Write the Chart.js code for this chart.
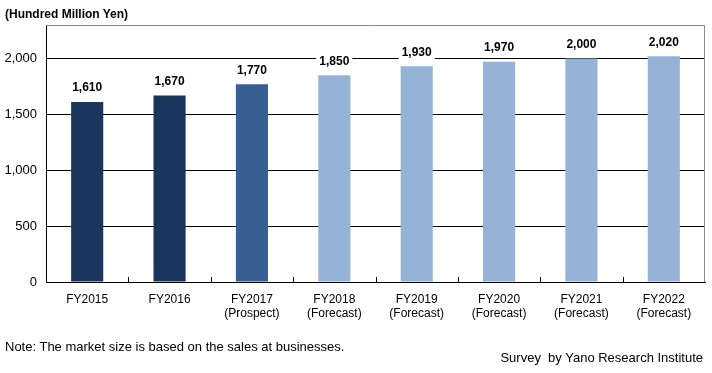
<!DOCTYPE html>
<html>
<head>
<meta charset="utf-8">
<script src="https://cdn.jsdelivr.net/npm/chart.js@4"></script>
<style>
  html, body { margin: 0; padding: 0; background: #fff; }
  #wrap { position: relative; width: 712px; height: 373px; }
  .txt { position: absolute; font-family: 'Liberation Sans', sans-serif; color: #000; white-space: nowrap; }
</style>
</head>
<body>
<div id="wrap">
  <canvas id="marketChart" width="712" height="373"></canvas>
  <div class="txt" style="left:5px; top:7px; font-size:12px; font-weight:bold;">(Hundred Million Yen)</div>
  <div class="txt" style="left:5px; top:339px; font-size:13px;">Note: The market size is based on the sales at businesses.</div>
  <div class="txt" style="right:9px; top:350px; font-size:13px;">Survey&nbsp; by Yano Research Institute</div>
</div>
<script>
const categories = [
    ['FY2015'], ['FY2016'], ['FY2017', '(Prospect)'], ['FY2018', '(Forecast)'],
    ['FY2019', '(Forecast)'], ['FY2020', '(Forecast)'], ['FY2021', '(Forecast)'], ['FY2022', '(Forecast)']
];
const marketSize = [1610, 1670, 1770, 1850, 1930, 1970, 2000, 2020];
const barColors = ['#1b365d', '#1b365d', '#366092', '#95b3d7', '#95b3d7', '#95b3d7', '#95b3d7', '#95b3d7'];
const yTicks = [0, 500, 1000, 1500, 2000];
const yMax = 2300;

const fmt = v => Number(v).toLocaleString('en-US');

// value labels with a white box behind them
const valueLabels = {
    id: 'valueLabels',
    afterDatasetsDraw(chart) {
        const ctx = chart.ctx;
        const meta = chart.getDatasetMeta(0);
        ctx.save();
        ctx.font = 'bold 12px "Liberation Sans", sans-serif';
        ctx.textAlign = 'center';
        ctx.textBaseline = 'middle';
        meta.data.forEach((bar, i) => {
            const text = fmt(marketSize[i]);
            const w = ctx.measureText(text).width + 6;
            const y = bar.y - 14;
            ctx.fillStyle = '#fff';
            ctx.fillRect(bar.x - w / 2, y - 8, w, 16);
            ctx.fillStyle = '#000';
            ctx.fillText(text, bar.x, y);
        });
        ctx.restore();
    }
};

// grey frame on top/right, small inward ticks between categories
const frame = {
    id: 'frame',
    afterDraw(chart) {
        const { ctx, chartArea: a, scales } = chart;
        ctx.save();
        ctx.strokeStyle = '#8c8c8c';
        ctx.lineWidth = 1;
        ctx.beginPath();
        ctx.moveTo(a.left, a.top + 0.5);
        ctx.lineTo(a.right - 0.5, a.top + 0.5);
        ctx.lineTo(a.right - 0.5, a.bottom);
        ctx.stroke();
        ctx.strokeStyle = '#000';
        ctx.beginPath();
        const x = scales.x;
        const step = (x.right - x.left) / categories.length;
        for (let i = 1; i < categories.length; i++) {
            const px = Math.round(x.left + i * step) + 0.5;
            ctx.moveTo(px, a.bottom);
            ctx.lineTo(px, a.bottom - 5);
        }
        ctx.stroke();
        ctx.restore();
    }
};

new Chart(document.getElementById('marketChart'), {
    type: 'bar',
    data: {
        labels: categories,
        datasets: [{
            data: marketSize,
            backgroundColor: barColors,
            borderWidth: 0,
            barPercentage: 0.39,
            categoryPercentage: 1
        }]
    },
    options: {
        responsive: false,
        animation: false,
        layout: { padding: { top: 25, right: 7, left: 0, bottom: 0 } },
        plugins: { legend: { display: false }, tooltip: { enabled: false } },
        scales: {
            x: {
                afterFit: s => { s.height = 91; },
                grid: { display: false },
                border: { color: '#000', width: 1 },
                ticks: {
                    padding: 2,
                    color: '#000',
                    maxRotation: 0,
                    font: { family: '"Liberation Sans", sans-serif', size: 12 }
                }
            },
            y: {
                min: 0,
                max: yMax,
                afterFit: s => { s.width = 46; },
                afterBuildTicks: s => { s.ticks = yTicks.concat([yMax]).map(v => ({ value: v })); },
                border: { color: '#000', width: 1 },
                grid: {
                    drawTicks: false,
                    color: c => (c.tick && c.tick.value === yMax) ? 'rgba(0,0,0,0)' : '#000',
                    lineWidth: 1
                },
                ticks: {
                    padding: 9,
                    color: '#000',
                    font: { family: '"Liberation Sans", sans-serif', size: 13 },
                    callback: v => yTicks.includes(v) ? fmt(v) : ''
                }
            }
        }
    },
    plugins: [valueLabels, frame]
});
</script>
</body>
</html>
